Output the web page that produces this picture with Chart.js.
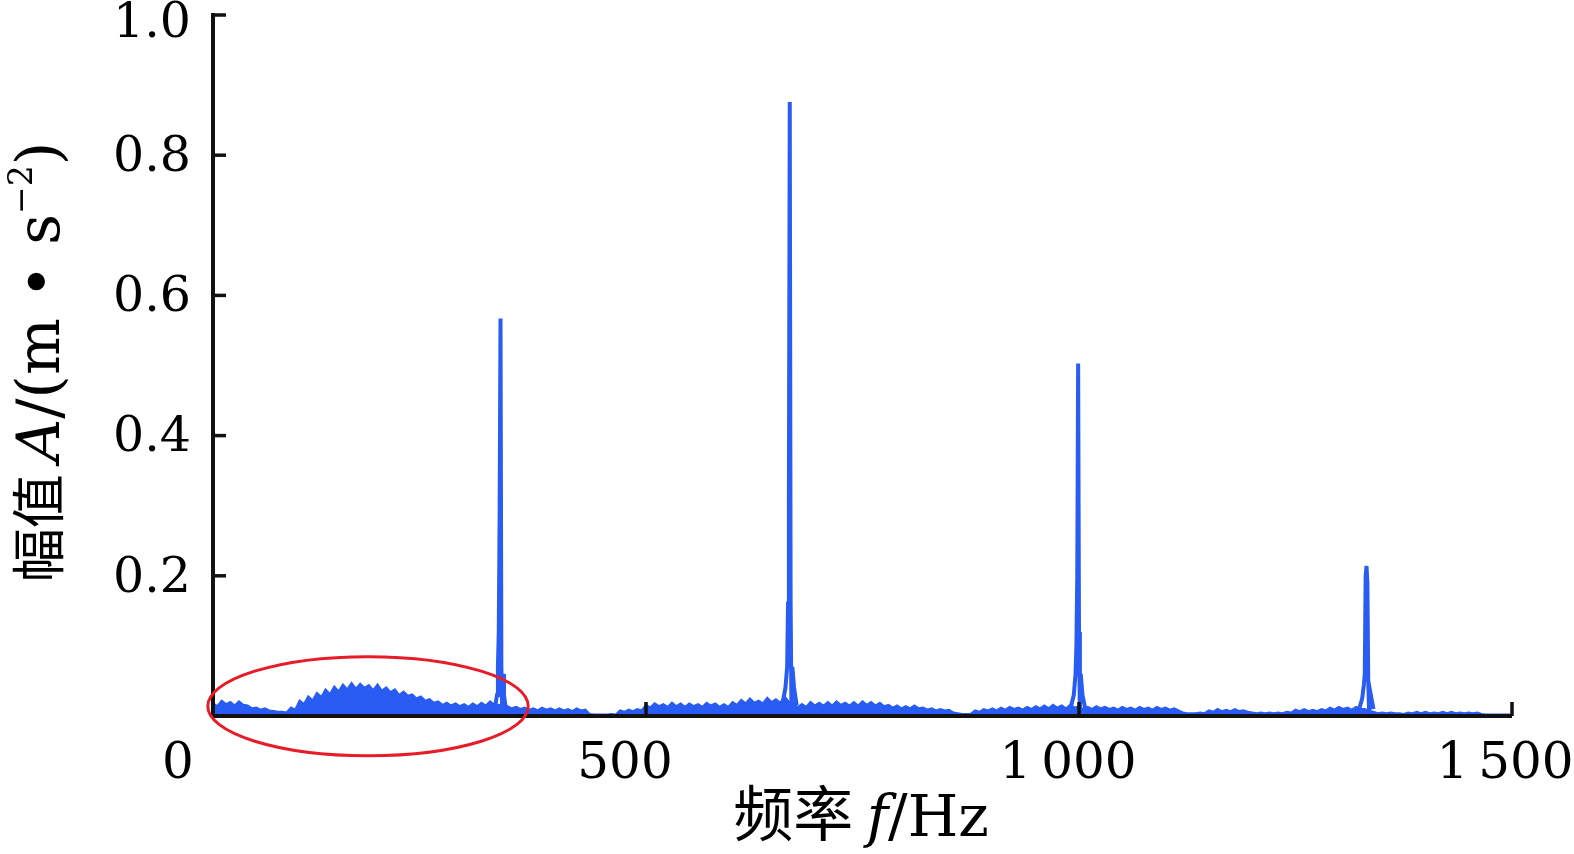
<!DOCTYPE html>
<html>
<head>
<meta charset="utf-8">
<script src="https://cdn.jsdelivr.net/npm/chart.js@4"></script>
<style>
  html, body { margin: 0; padding: 0; background: #fff; }
  canvas { display: block; }
</style>
</head>
<body>
<canvas id="spectrum" width="1574" height="854"></canvas>
<script>
// noise floor, one value every 5 Hz from 0 to 1500 Hz
const noiseStartHz = 0;
const noiseStepHz = 5;
const noiseAmp = [
  0.018, 0.014, 0.022, 0.017, 0.02, 0.015, 0.021, 0.016, 0.015, 0.011,
  0.012, 0.009, 0.011, 0.008, 0.007, 0.006, 0.006, 0.005, 0.012, 0.009,
  0.022, 0.017, 0.028, 0.022, 0.033, 0.027, 0.038, 0.031, 0.042, 0.035,
  0.045, 0.038, 0.047, 0.039, 0.046, 0.04, 0.044, 0.037, 0.045, 0.036,
  0.041, 0.034, 0.038, 0.03, 0.035, 0.029, 0.031, 0.025, 0.028, 0.022,
  0.024, 0.019, 0.021, 0.016, 0.019, 0.015, 0.018, 0.014, 0.017, 0.013,
  0.018, 0.014, 0.019, 0.015, 0.021, 0.016, 0.016, 0.012, 0.014, 0.011,
  0.013, 0.01, 0.012, 0.009, 0.011, 0.008, 0.012, 0.009, 0.011, 0.008,
  0.011, 0.008, 0.01, 0.007, 0.011, 0.008, 0.009, 0.003, 0.002, 0.002,
  0.002, 0.002, 0.003, 0.002, 0.008, 0.006, 0.009, 0.007, 0.01, 0.008,
  0.016, 0.012, 0.018, 0.014, 0.017, 0.013, 0.019, 0.014, 0.018, 0.013,
  0.018, 0.014, 0.017, 0.013, 0.019, 0.015, 0.018, 0.013, 0.017, 0.013,
  0.02, 0.016, 0.023, 0.018, 0.025, 0.019, 0.022, 0.018, 0.026, 0.02,
  0.024, 0.019, 0.028, 0.02, 0.02, 0.012, 0.017, 0.013, 0.02, 0.015,
  0.019, 0.015, 0.02, 0.015, 0.021, 0.016, 0.019, 0.015, 0.02, 0.015,
  0.021, 0.016, 0.02, 0.015, 0.019, 0.014, 0.016, 0.012, 0.015, 0.011,
  0.014, 0.011, 0.015, 0.011, 0.012, 0.009, 0.011, 0.008, 0.01, 0.008,
  0.009, 0.005, 0.004, 0.003, 0.003, 0.003, 0.008, 0.006, 0.01, 0.008,
  0.011, 0.008, 0.012, 0.009, 0.013, 0.01, 0.012, 0.009, 0.013, 0.01,
  0.014, 0.011, 0.015, 0.011, 0.016, 0.012, 0.015, 0.011, 0.016, 0.012,
  0.014, 0.01, 0.013, 0.01, 0.014, 0.011, 0.013, 0.01, 0.012, 0.009,
  0.013, 0.01, 0.012, 0.009, 0.013, 0.01, 0.012, 0.009, 0.013, 0.01,
  0.012, 0.009, 0.011, 0.008, 0.005, 0.004, 0.004, 0.004, 0.005, 0.004,
  0.008, 0.006, 0.01, 0.007, 0.009, 0.007, 0.01, 0.007, 0.008, 0.006,
  0.005, 0.004, 0.005, 0.004, 0.005, 0.004, 0.005, 0.004, 0.006, 0.005,
  0.009, 0.007, 0.01, 0.007, 0.009, 0.007, 0.01, 0.008, 0.012, 0.009,
  0.013, 0.01, 0.012, 0.009, 0.013, 0.01, 0.01, 0.007, 0.006, 0.004,
  0.005, 0.004, 0.005, 0.004, 0.004, 0.003, 0.005, 0.004, 0.006, 0.004,
  0.006, 0.004, 0.005, 0.004, 0.006, 0.004, 0.006, 0.004, 0.005, 0.004,
  0.005, 0.004, 0.005, 0.003, 0.002, 0.002, 0.002, 0.002, 0.002, 0.002,
  0.002
];

// the four harmonic peaks, read around each spike
const peak1Hz = [326, 328, 329, 330, 331, 332, 333, 334, 335, 336, 338];
const peak1Amp = [0.015, 0.03, 0.07, 0.12, 0.29, 0.567, 0.07, 0.005, 0.06, 0.03, 0.012];
const peak2Hz = [658, 661, 663, 664, 665, 666, 667, 668, 669, 671, 674];
const peak2Amp = [0.02, 0.04, 0.07, 0.16, 0.3, 0.876, 0.16, 0.005, 0.07, 0.04, 0.015];
const peak3Hz = [991, 994, 996, 997, 998, 999, 1000, 1001, 1002, 1004, 1007];
const peak3Amp = [0.015, 0.03, 0.06, 0.1, 0.2, 0.503, 0.12, 0.005, 0.06, 0.03, 0.012];
const peak4Hz = [1324, 1327, 1329, 1330, 1331, 1332, 1333, 1334, 1335, 1337, 1340];
const peak4Amp = [0.012, 0.025, 0.045, 0.06, 0.2, 0.214, 0.19, 0.05, 0.005, 0.03, 0.01];

const xTicks = [0, 500, 1000, 1500];
const xTickLabels = ["0", "500", "1\u2009000", "1\u2009500"];
const yTicks = [0.2, 0.4, 0.6, 0.8, 1.0];
const yTickLabels = ["0.2", "0.4", "0.6", "0.8", "1.0"];

// red ellipse marking the low-frequency hump (data units)
const markCenterHz = 179, markCenterAmp = 0.014, markRadiusHz = 185, markRadiusAmp = 0.0707;

const blue = "rgb(40, 92, 242)";
const serif = '"DejaVu Serif", "Liberation Serif", serif';
const cjk = '"Noto Sans CJK SC", sans-serif';

const noisePts = noiseAmp.map((a, i) => ({ x: noiseStartHz + i * noiseStepHz, y: a }));
const peakPts = [];
[[peak1Hz, peak1Amp], [peak2Hz, peak2Amp], [peak3Hz, peak3Amp], [peak4Hz, peak4Amp]].forEach(([hz, amp], k) => {
  if (k > 0) peakPts.push({ x: hz[0] - 1, y: null });
  hz.forEach((f, i) => peakPts.push({ x: f, y: amp[i] }));
});

// draw a run of [text, font, dy] pieces left to right starting at x
function drawRun(ctx, pieces, x, y) {
  pieces.forEach(([txt, font, dy]) => {
    ctx.font = font;
    ctx.fillText(txt, x, y + (dy || 0));
    x += ctx.measureText(txt).width;
  });
}
function runWidth(ctx, pieces) {
  let w = 0;
  pieces.forEach(([txt, font]) => { ctx.font = font; w += ctx.measureText(txt).width; });
  return w;
}

const decor = {
  id: "decor",
  afterDraw(chart) {
    const { ctx, scales: { x, y } } = chart;
    const x0 = x.getPixelForValue(0), x1 = x.getPixelForValue(1500);
    const y0 = y.getPixelForValue(0), y1 = y.getPixelForValue(1);
    ctx.save();
    ctx.strokeStyle = "#111";
    ctx.lineWidth = 4;
    ctx.beginPath();
    ctx.moveTo(x0, y1 - 2);
    ctx.lineTo(x0, y0);
    ctx.lineTo(x1, y0);
    ctx.stroke();
    ctx.lineWidth = 3.5;
    yTicks.forEach((v) => {
      const py = y.getPixelForValue(v);
      ctx.beginPath(); ctx.moveTo(x0, py); ctx.lineTo(x0 + 13, py); ctx.stroke();
    });
    xTicks.slice(1).forEach((v) => {
      const px = x.getPixelForValue(v);
      ctx.beginPath(); ctx.moveTo(px, y0); ctx.lineTo(px, y0 - 14); ctx.stroke();
    });

    // tick labels
    ctx.fillStyle = "#000";
    ctx.font = "49px " + serif;
    ctx.textAlign = "right";
    ctx.textBaseline = "middle";
    yTicks.forEach((v, i) => ctx.fillText(yTickLabels[i], x0 - 22, Math.max(y.getPixelForValue(v) + 3, 24)));
    const xShift = [-35, -21, -11, -7];
    ctx.textAlign = "center";
    ctx.textBaseline = "alphabetic";
    ctx.font = "50px " + serif;
    xTicks.forEach((v, i) => ctx.fillText(xTickLabels[i], x.getPixelForValue(v) + xShift[i], 778));

    // axis titles
    ctx.textAlign = "left";
    const xt = [["频率 ", "60px " + cjk], ["f", "italic 58px " + serif], ["/Hz", "58px " + serif]];
    drawRun(ctx, xt, 861 - runWidth(ctx, xt) / 2, 836);

    const yt = [["幅值 ", "54px " + cjk], ["A", "italic 60px " + serif], ["/(m", "60px " + serif],
      [" \u2022 ", "60px " + serif], ["s", "60px " + serif], ["\u22122", "33px " + serif, -27], [")", "60px " + serif]];
    ctx.save();
    ctx.translate(59, 362);
    ctx.rotate(-Math.PI / 2);
    drawRun(ctx, yt, -runWidth(ctx, yt) / 2, 0);
    ctx.restore();

    // red ellipse
    const cx = x.getPixelForValue(markCenterHz), cy = y.getPixelForValue(markCenterAmp);
    const rx = x.getPixelForValue(markCenterHz + markRadiusHz) - cx;
    const ry = cy - y.getPixelForValue(markCenterAmp + markRadiusAmp);
    ctx.strokeStyle = "rgb(232, 28, 40)";
    ctx.lineWidth = 3;
    ctx.beginPath();
    ctx.ellipse(cx, cy, rx, ry, 0, 0, Math.PI * 2);
    ctx.stroke();
    ctx.restore();
  },
};

new Chart(document.getElementById("spectrum"), {
  type: "line",
  data: {
    datasets: [
      { data: noisePts, borderColor: blue, backgroundColor: blue, fill: "origin", borderWidth: 2, pointRadius: 0, tension: 0 },
      { data: peakPts, borderColor: blue, borderWidth: 4, pointRadius: 0, tension: 0, spanGaps: false },
    ],
  },
  options: {
    responsive: false,
    animation: false,
    devicePixelRatio: 1,
    layout: { padding: { left: 213, right: 62, top: 15, bottom: 138 } },
    plugins: { legend: { display: false }, tooltip: { enabled: false } },
    scales: {
      x: { type: "linear", min: 0, max: 1500, display: false },
      y: { min: 0, max: 1, display: false },
    },
  },
  plugins: [decor],
});
</script>
</body>
</html>
